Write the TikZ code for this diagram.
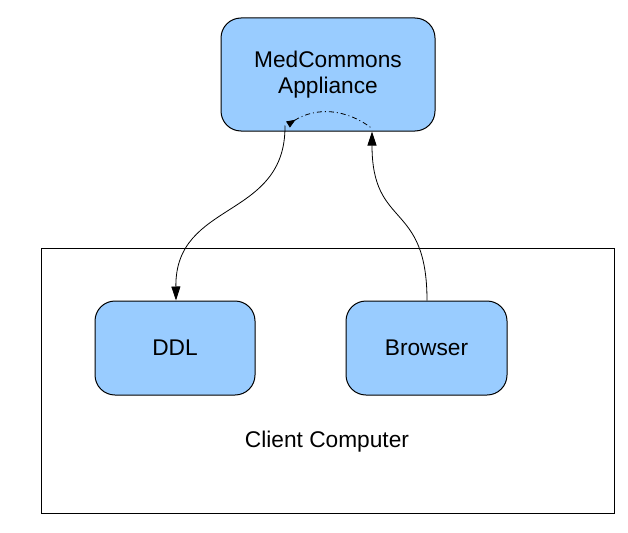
\documentclass[tikz,border=0pt]{standalone}
\usepackage{fontspec}
\setmainfont{Liberation Sans}
\usetikzlibrary{arrows.meta}
\definecolor{boxblue}{HTML}{99CCFF}

\begin{document}
\begin{tikzpicture}[x=1pt,y=-1pt]
		\tikzstyle{every node}+=[inner sep=0pt]
		\tikzstyle{unit}=[draw=black, fill=boxblue, rounded corners=20pt, line width=1pt, align=center, font=\fontsize{22.7}{26}\selectfont]
		\tikzstyle{link}=[line width=0.8pt, -{Triangle[length=14pt,width=9pt]}]
		\useasboundingbox (0,0) rectangle (628,532);
		\draw [black, line width=1pt] (41,248) rectangle (614,513);
		\node [unit, minimum width=214pt, minimum height=113pt] (app) at (328,74.5) {MedCommons\\Appliance};
		\node [unit, minimum width=160pt, minimum height=94pt] (ddl) at (175,348) {DDL};
		\node [unit, minimum width=161pt, minimum height=94pt] (browser) at (426.5,348) {Browser};
		\node [font=\fontsize{22.7}{26}\selectfont] (client) at (327,442) {Client Computer};
		\coordinate (down) at ([xshift=-43pt,yshift=6pt]app.south);
		\coordinate (up) at ([xshift=44pt]app.south);
		\draw [link] (down) .. controls (286,220) and (175,200) .. (ddl.north -| 176,0);
		\draw [link] (browser.north -| 427,0) .. controls (427,200) and (372,230) .. (up);
		\draw [line width=0.8pt, dash pattern=on 5pt off 3pt on 1pt off 3pt, {Triangle[reversed,length=9pt,width=7pt]}-] ([xshift=3pt,yshift=1pt]down) to [bend left=35] ([yshift=3pt]up);
	\end{tikzpicture}
\end{document}
